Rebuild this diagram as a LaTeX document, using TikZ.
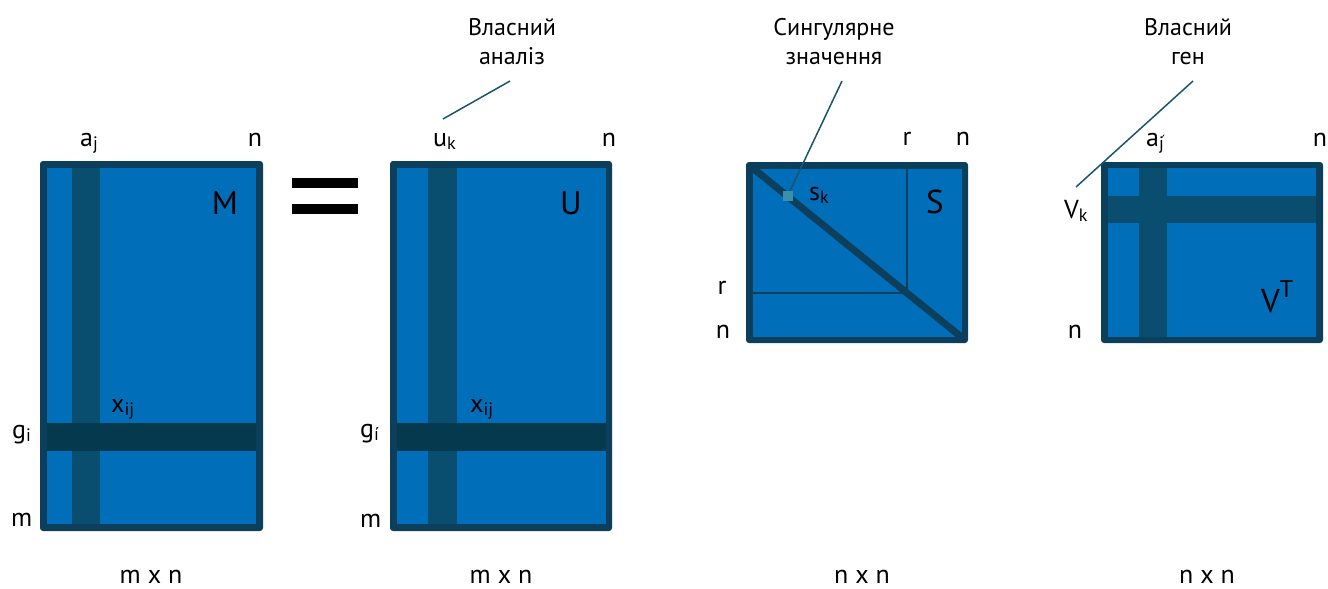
\documentclass[tikz,border=0pt]{standalone}
\usepackage{fontspec}
\setmainfont{PT Sans}
\newfontfamily\symfont{DejaVu Sans}
\definecolor{framec}{RGB}{11,63,91}
\definecolor{cellc}{RGB}{0,110,185}
\definecolor{bandc}{RGB}{10,78,111}
\definecolor{rowc}{RGB}{5,57,78}
\definecolor{leadc}{RGB}{26,85,112}
\definecolor{sqc}{RGB}{60,143,170}
% small index set just below the baseline
\newcommand\lowidx[1]{\raisebox{-0.12em}{\fontsize{18}{18}\selectfont #1}}
% j with a prime stroke above it
\newcommand\jacute{j\rlap{\hspace{-0.12em}\raisebox{0.2em}{\symfont\fontsize{14}{14}\selectfont ′}}}
\begin{document}
\begin{tikzpicture}[x=1pt,y=-1pt,
  lbl/.style={font=\fontsize{26}{30}\selectfont, inner sep=0pt},
  big/.style={font=\fontsize{33}{36}\selectfont, inner sep=0pt},
  note/.style={font=\fontsize{24}{29}\selectfont, align=center, inner sep=0pt},
  leader/.style={draw=leadc, line width=1.5pt},
  frame/.style={fill=framec, rounded corners=3pt},
  body/.style={fill=cellc},
  colband/.style={fill=bandc},
  rowband/.style={fill=rowc},
  thin/.style={draw=framec, line width=2pt},
  thick/.style={draw=framec, line width=7pt}]
\useasboundingbox (0,0) rectangle (1328,589);

% ---------- matrix M ----------
\fill[frame] (40,161) rectangle (263,531);
\fill[body] (47,168) rectangle (256,524);
\fill[colband] (72,168) rectangle (100,524);
\fill[rowband] (47,423) rectangle (256,451);
\node[big] (mM) at (225,203) {M};
\node[lbl, anchor=base west] (mA) at (80,146) {a\lowidx{j}};
\node[lbl, anchor=base] (mN) at (255,146) {n};
\node[lbl, anchor=base west] (mX) at (111,412) {x\lowidx{ij}};
\node[lbl, anchor=base west] (mG) at (12,438) {g\lowidx{i}};
\node[lbl, anchor=base west] (mMm) at (11,526) {m};
\node[lbl, anchor=base] (mDim) at (151,583) {m x n};

% ---------- equals sign ----------
\fill[black] (292,178) rectangle (358,188);
\fill[black] (292,204) rectangle (358,214);

% ---------- matrix U ----------
\fill[frame] (390,161) rectangle (612,531);
\fill[body] (397,168) rectangle (606,524);
\fill[colband] (428,168) rectangle (457,524);
\fill[rowband] (397,423) rectangle (606,451);
\node[big] (uU) at (571,203) {U};
\node[lbl, anchor=base west] (uK) at (433,146) {u\lowidx{k}};
\node[lbl, anchor=base] (uN) at (609,146) {n};
\node[lbl, anchor=base west] (uX) at (470,412) {x\lowidx{ij}};
\node[lbl, anchor=base west] (uG) at (360,437) {g\lowidx{í}};
\node[lbl, anchor=base west] (uMm) at (360,527) {m};
\node[lbl, anchor=base] (uDim) at (501,583) {m x n};

% ---------- matrix S ----------
\fill[frame] (746,162) rectangle (968,343);
\fill[body] (753,169) rectangle (962,337);
\draw[thin] (907,169) -- (907,293);
\draw[thin] (753,293) -- (907,293);
\begin{scope}
  \clip (746,162) rectangle (968,343);
  \draw[thick] (749,165) -- (965,340);
\end{scope}
\node[big] (sS) at (935,202) {S};
\node[lbl, anchor=base west] (sK) at (809,200) {s\lowidx{k}};
\node[lbl, anchor=base] (sR) at (907,145) {r};
\node[lbl, anchor=base] (sN) at (963,145) {n};
\node[lbl, anchor=base] (sRl) at (722,294) {r};
\node[lbl, anchor=base] (sNl) at (723,338) {n};
\node[lbl, anchor=base] (sDim) at (862,583) {n x n};

% ---------- matrix V^T ----------
\fill[frame] (1101,162) rectangle (1323,343);
\fill[body] (1108,168) rectangle (1316,337);
\fill[colband] (1139,168) rectangle (1167,337);
\fill[colband] (1108,196) rectangle (1316,223);
\node[big, anchor=base west] (vV) at (1261,312) {V\raisebox{0.45em}{\fontsize{24}{24}\selectfont T}};
\node[lbl, anchor=base west] (vA) at (1146,146) {a\lowidx{\jacute}};
\node[lbl, anchor=base] (vN) at (1320,146) {n};
\node[lbl, anchor=base west] (vK) at (1064,218) {V\lowidx{k}};
\node[lbl, anchor=base] (vNl) at (1075,338) {n};
\node[lbl, anchor=base] (vDim) at (1207,583) {n x n};

% ---------- annotations with leader lines ----------
\node[note] (nU) at (512,42) {Власний\\аналіз};
\coordinate (nUa) at (510,81);
\coordinate (nUb) at (443,119);
\draw[leader] (nUa) -- (nUb);

\node[note] (nS) at (834,42) {Сингулярне\\значення};
\coordinate (nSa) at (842,81);
\coordinate (nSb) at (789,193);
\draw[leader] (nSa) -- (nSb);
\fill[sqc] (783,191) rectangle (793,201);

\node[note] (nV) at (1188,42) {Власний\\ген};
\coordinate (nVa) at (1193,81);
\coordinate (nVb) at (1076,187);
\draw[leader] (nVa) -- (nVb);
\end{tikzpicture}
\end{document}
